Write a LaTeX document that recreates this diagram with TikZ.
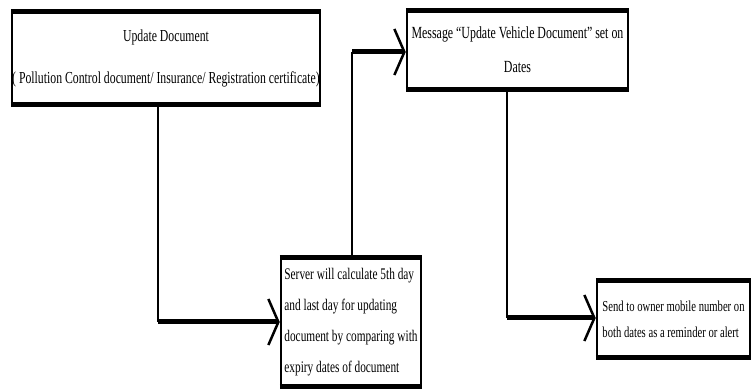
\documentclass[tikz,border=0pt]{standalone}
\usepackage{fontspec}
\setmainfont[FakeStretch=0.7]{Liberation Serif}
\usetikzlibrary{arrows.meta}
\begin{document}
\begin{tikzpicture}[x=1pt,y=-1pt,
  box/.style={draw, line width=2.5pt, inner sep=0pt, minimum width=#1, anchor=center},
  rim/.style={line width=5pt},
  vline/.style={line width=2.5pt},
  hline/.style={line width=5pt, -{Straight Barb[length=10pt,width=46pt,line width=2.5pt]}},
]
\useasboundingbox (0,0) rectangle (753,390);
% boxes
\node[box=302pt, minimum height=90pt, align=center,
      font={\fontsize{16.8}{42}\selectfont}] (b1) at (166,58)
  {Update Document\\( Pollution Control document/ Insurance/ Registration certificate)};
\node[box=221pt, minimum height=76pt, align=center,
      font={\fontsize{17}{34}\selectfont}] (b2) at (517.5,50)
  {Message ``Update Vehicle Document'' set on\\Dates};
\node[box=140pt, minimum height=127pt, align=left,
      font={\fontsize{16.2}{31}\selectfont}] (b3) at (351,322)
  {Server will calculate 5th day\\and last day for updating\\document by comparing with\\expiry dates of document};
\node[box=153pt, minimum height=74pt, align=left,
      font={\fontsize{15.2}{26}\selectfont}] (b4) at (673.5,319)
  {Send to owner mobile number on\\both dates as a reminder or alert};
% thick top and bottom rims
\foreach \b in {b1,b2,b3,b4}{
  \draw[rim] (\b.north west) -- (\b.north east);
  \draw[rim] (\b.south west) -- (\b.south east);
}
% connectors
\coordinate (c1) at (158,322);
\draw[vline] (b1.south -| c1) -- (c1);
\draw[hline] (c1) -- (b3.west |- c1);
\coordinate (c2) at (352,52);
\draw[vline] (b3.north -| c2) -- (c2);
\draw[hline] (c2) -- (b2.west |- c2);
\coordinate (c3) at (507,318);
\draw[vline] (b2.south -| c3) -- (c3);
\draw[hline] (c3) -- (b4.west |- c3);
\end{tikzpicture}
\end{document}
